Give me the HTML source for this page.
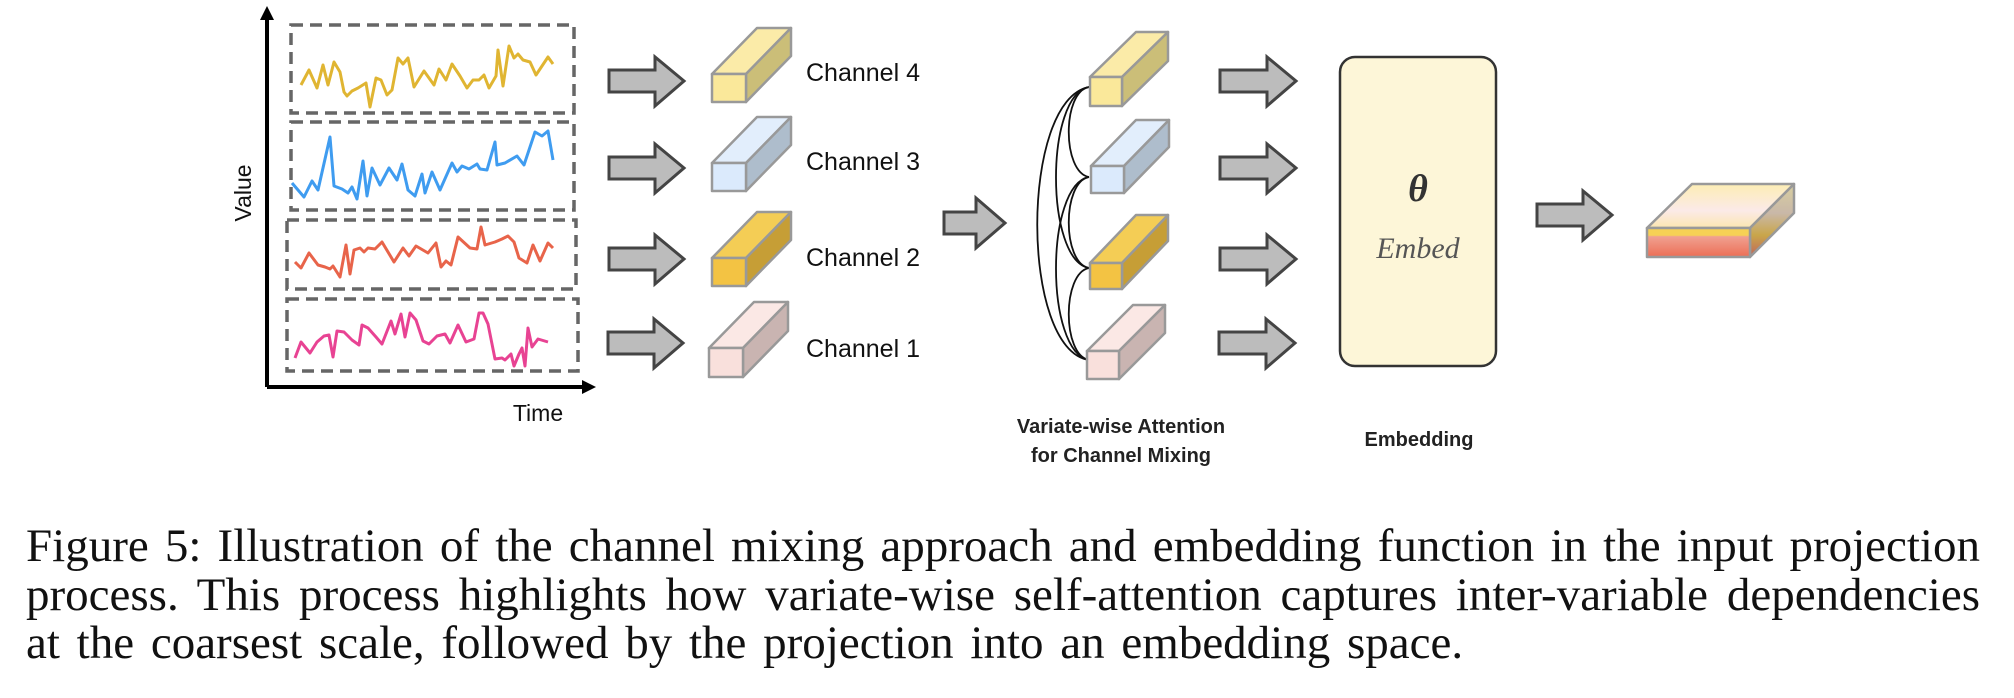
<!DOCTYPE html>
<html><head><meta charset="utf-8"><style>
html,body{margin:0;padding:0;background:#fff;width:2014px;height:698px;overflow:hidden;position:relative}
svg{position:absolute;left:0;top:0}
.cap{position:absolute;left:26px;width:1954px;font-family:"Liberation Serif",serif;font-size:47px;line-height:52px;color:#111;white-space:nowrap}
.j{text-align:justify;text-align-last:justify}
</style></head><body>
<svg width="2014" height="698" viewBox="0 0 2014 698" xmlns="http://www.w3.org/2000/svg">
<defs>
<linearGradient id="og" x1="0" y1="0" x2="0" y2="1">
<stop offset="0" stop-color="#fcedb4"/><stop offset="0.6" stop-color="#fbeae8"/><stop offset="1" stop-color="#fbe6b0"/></linearGradient>
<linearGradient id="of" x1="0" y1="0" x2="0" y2="1">
<stop offset="0" stop-color="#f6d155"/><stop offset="0.25" stop-color="#f6d155"/><stop offset="0.3" stop-color="#f0a090"/><stop offset="1" stop-color="#ec6e55"/></linearGradient>
<linearGradient id="or" x1="0" y1="0" x2="0" y2="1">
<stop offset="0" stop-color="#d8cfa0"/><stop offset="0.4" stop-color="#c9b8a8"/><stop offset="0.7" stop-color="#c9a64a"/><stop offset="1" stop-color="#c0645a"/></linearGradient>
</defs>
<line x1="267" y1="387" x2="267" y2="18" stroke="#000" stroke-width="4"/>
<polygon points="267,6 260,20 274,20" fill="#000"/>
<line x1="267" y1="387" x2="584" y2="387" stroke="#000" stroke-width="4"/>
<polygon points="596,387 582,380 582,394" fill="#000"/>
<text x="0" y="0" transform="translate(251,193) rotate(-90)" text-anchor="middle" font-family="Liberation Sans,sans-serif" font-size="23" fill="#111">Value</text>
<text x="538" y="421" text-anchor="middle" font-family="Liberation Sans,sans-serif" font-size="23" fill="#111">Time</text>
<g fill="none" stroke="#666" stroke-width="3.5" stroke-dasharray="12,7">
<rect x="291" y="25" width="283" height="88"/>
<rect x="291" y="122" width="283" height="88"/>
<rect x="287" y="220" width="289" height="69"/>
<rect x="287" y="299" width="291" height="72"/>
</g>
<g fill="none" stroke-width="3" stroke-linejoin="round">
<polyline stroke="#e0b532" points="301,85 309,70 317,88 323,65 328,85 334,62 340,72 344,92 347,96 352,91 358,88 366,83 370,107 376,78 381,80 387,95 392,90 398,58 403,64 408,58 414,87 424,71 434,85 439,69 446,80 452,64 460,76 467,88 473,80 479,80 484,75 489,88 496,76 498,50 503,86 509,46 514,58 518,54 523,60 530,62 536,75 548,57 553,64"/>
<polyline stroke="#3f9cf0" points="292,183 304,197 312,181 318,190 330,137 334,186 342,189 348,193 352,187 357,199 363,161 367,196 372,168 380,185 389,168 397,180 402,164 408,190 415,196 422,174 425,193 432,172 440,190 452,163 457,172 462,166 469,169 477,164 480,169 487,170 495,142 497,165 505,163 517,156 524,165 535,132 542,136 548,131 553,160"/>
<polyline stroke="#e8644a" points="295,262 301,268 309,253 318,265 325,267 330,269 333,266 340,277 346,245 350,274 354,250 360,248 364,252 368,248 375,249 382,242 394,262 403,248 409,256 416,246 428,253 436,243 441,267 446,261 451,265 458,237 470,248 477,249 481,227 485,245 495,242 502,239 508,236 514,242 519,258 527,263 533,245 540,261 548,243 553,248"/>
<polyline stroke="#e84393" points="295,358 301,342 310,353 317,342 324,336 329,335 333,357 337,331 344,332 352,340 359,345 362,325 368,328 376,337 382,344 391,321 395,334 401,314 405,337 410,313 416,320 423,341 429,344 437,336 445,334 450,343 458,325 466,342 474,339 479,313 483,313 488,324 495,359 502,358 505,360 511,354 514,366 519,354 522,348 525,366 528,328 532,347 538,339 548,342"/>
</g>
<g fill="#bcbcbc" stroke="#444" stroke-width="3" stroke-linejoin="miter">
<polygon points="609,70 655,70 655,57 684,81 655,106 655,92 609,92"/>
<polygon points="609,157 655,157 655,144 684,168 655,193 655,179 609,179"/>
<polygon points="609,248 655,248 655,235 684,259 655,284 655,270 609,270"/>
<polygon points="608,332 654,332 654,319 683,343 654,368 654,354 608,354"/>
<polygon points="944,212 976,212 976,198 1005,223 976,248 976,234 944,234"/>
<polygon points="1220,70 1267,70 1267,57 1296,81 1267,106 1267,92 1220,92"/>
<polygon points="1220,157 1267,157 1267,144 1296,168 1267,193 1267,179 1220,179"/>
<polygon points="1220,248 1267,248 1267,235 1296,259 1267,284 1267,270 1220,270"/>
<polygon points="1219,332 1266,332 1266,319 1295,343 1266,368 1266,354 1219,354"/>
<polygon points="1537,204 1583,204 1583,191 1612,215 1583,240 1583,226 1537,226"/>
</g>
<g stroke="#999" stroke-width="2.5" stroke-linejoin="round">
<g><polygon points="712,74 746,74 791,28 757,28" fill="#fbeba8"/><polygon points="746,74 791,28 791,56 746,102" fill="#cbbe78"/><rect x="712" y="74" width="34" height="28" fill="#fae89a"/></g>
<g><polygon points="712,163 746,163 791,117 757,117" fill="#e2eefc"/><polygon points="746,163 791,117 791,145 746,191" fill="#aebdcc"/><rect x="712" y="163" width="34" height="28" fill="#dbeafc"/></g>
<g><polygon points="712,258 746,258 791,212 757,212" fill="#f4cd55"/><polygon points="746,258 791,212 791,240 746,286" fill="#c69e36"/><rect x="712" y="258" width="34" height="28" fill="#f3c343"/></g>
<g><polygon points="709,348 743,348 788,302 754,302" fill="#fbe8e5"/><polygon points="743,348 788,302 788,331 743,377" fill="#c9b4b1"/><rect x="709" y="348" width="34" height="29" fill="#f9e0dc"/></g>
</g>
<g font-family="Liberation Sans,sans-serif" font-size="25" fill="#111">
<text x="806" y="81">Channel 4</text><text x="806" y="170">Channel 3</text><text x="806" y="266">Channel 2</text><text x="806" y="357">Channel 1</text>
</g>
<g fill="none" stroke="#111" stroke-width="1.8">
<path d="M1089,87 C1062,92 1062,172 1089,177"/>
<path d="M1089,87 C1045,95 1045,260 1089,268"/>
<path d="M1089,87 C1020,100 1020,350 1089,360"/>
<path d="M1089,177 C1062,182 1062,263 1089,268"/>
<path d="M1089,177 C1045,185 1045,352 1089,360"/>
<path d="M1089,268 C1062,273 1062,355 1089,360"/>
</g>
<g stroke="#999" stroke-width="2.5" stroke-linejoin="round">
<g><polygon points="1090,77 1122,77 1168,32 1136,32" fill="#fbeba8"/><polygon points="1122,77 1168,32 1168,61 1122,106" fill="#cbbe78"/><rect x="1090" y="77" width="32" height="29" fill="#fae89a"/></g>
<g><polygon points="1091,166 1124,166 1169,120 1136,120" fill="#e2eefc"/><polygon points="1124,166 1169,120 1169,147 1124,193" fill="#aebdcc"/><rect x="1091" y="166" width="33" height="27" fill="#dbeafc"/></g>
<g><polygon points="1090,263 1122,263 1168,215 1136,215" fill="#f4cd55"/><polygon points="1122,263 1168,215 1168,241 1122,289" fill="#c69e36"/><rect x="1090" y="263" width="32" height="26" fill="#f3c343"/></g>
<g><polygon points="1087,351 1119,351 1165,305 1133,305" fill="#fbe8e5"/><polygon points="1119,351 1165,305 1165,333 1119,379" fill="#c9b4b1"/><rect x="1087" y="351" width="32" height="28" fill="#f9e0dc"/></g>
</g>
<rect x="1340" y="57" width="156" height="309" rx="15" fill="#fdf6d8" stroke="#333" stroke-width="2.5"/>
<text x="1418" y="201" text-anchor="middle" font-family="Liberation Serif,serif" font-style="italic" font-weight="bold" font-size="38" fill="#333">θ</text>
<text x="1418" y="258" text-anchor="middle" font-family="Liberation Serif,serif" font-style="italic" font-size="30" fill="#555">Embed</text>
<g stroke="#999" stroke-width="2.5" stroke-linejoin="round">
<polygon points="1647,228 1750,228 1794,184 1692,184" fill="url(#og)"/>
<polygon points="1750,228 1794,184 1794,213 1750,257" fill="url(#or)"/>
<rect x="1647" y="228" width="103" height="29" fill="url(#of)"/>
</g>
<g font-family="Liberation Sans,sans-serif" font-weight="bold" font-size="20" fill="#222" text-anchor="middle">
<text x="1121" y="433">Variate-wise Attention</text>
<text x="1121" y="462">for Channel Mixing</text>
<text x="1419" y="446">Embedding</text>
</g>
</svg>
<div class="cap j" style="top:520px">Figure 5: Illustration of the channel mixing approach and embedding function in the input projection</div>
<div class="cap j" style="top:569px">process. This process highlights how variate-wise self-attention captures inter-variable dependencies</div>
<div class="cap" style="top:617px;word-spacing:5px">at the coarsest scale, followed by the projection into an embedding space.</div>
</body></html>
